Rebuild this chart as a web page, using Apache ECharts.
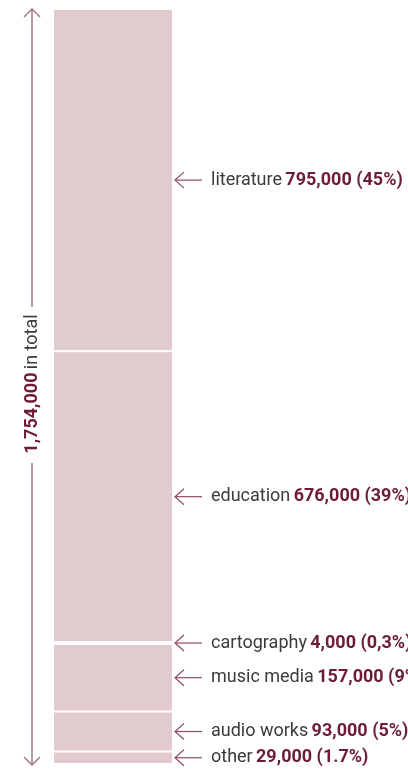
<!DOCTYPE html>
<html>
<head>
<meta charset="utf-8">
<script src="https://cdn.jsdelivr.net/npm/echarts@6/dist/echarts.min.js"></script>
<style>
  html, body { margin: 0; padding: 0; background: #fff; }
  #chart { width: 408px; height: 771px; }
</style>
</head>
<body>
<div id="chart"></div>
<script>
  // segments from top to bottom
  var categories = ['literature', 'education', 'cartography', 'music media', 'audio works', 'other']
  var values = [795000, 676000, 4000, 157000, 93000, 29000]
  var shares = ['45%', '39%', '0,3%', '9%', '5%', '1.7%']
  var totalText = '1,754,000'

  var total = values.reduce(function (a, b) { return a + b }, 0)
  var fontFamily = 'Roboto, "Noto Sans", sans-serif'
  var barColor = '#e2cbcf'
  var arrowColor = '#8c4b5e'

  var chart = echarts.init(document.getElementById('chart'))

  // ECharts stacks upward, so the last category goes in first
  var series = []
  for (var i = categories.length - 1; i >= 0; i--) {
    series.push({
      name: categories[i],
      type: 'bar',
      stack: 'all',
      barWidth: '100%',
      data: [values[i]],
      itemStyle: { color: barColor, borderColor: '#fff', borderWidth: 1 },
      label: {
        show: true,
        position: 'right',
        distance: 38,
        formatter: (function (k) {
          return '{n|' + categories[k] + '} {v|' + values[k].toLocaleString('en-US') + ' (' + shares[k] + ')}'
        })(i),
        rich: {
          n: { color: '#3b3b3b', fontSize: 18, fontFamily: fontFamily },
          v: { color: '#6c1d35', fontSize: 18, fontWeight: 'bold', fontFamily: fontFamily }
        }
      },
      emphasis: { disabled: true }
    })
  }

  chart.setOption({
    animation: false,
    grid: { left: 53, top: 9, width: 120, height: 755 },
    xAxis: { type: 'category', data: ['all'], show: false },
    yAxis: { type: 'value', min: 0, max: total, show: false },
    series: series
  })

  // arrows pointing at each segment's middle, plus the total axis
  var graphics = []
  var acc = total
  for (var j = 0; j < categories.length; j++) {
    var mid = acc - values[j] / 2
    acc -= values[j]
    var y = chart.convertToPixel({ gridIndex: 0 }, [0, mid])[1]
    graphics.push({
      type: 'polyline',
      shape: { points: [[175, y], [202, y]] },
      style: { stroke: arrowColor, lineWidth: 1.2, fill: null }
    })
    graphics.push({
      type: 'polyline',
      shape: { points: [[184, y - 8], [175, y], [184, y + 8]] },
      style: { stroke: arrowColor, lineWidth: 1.2, fill: null }
    })
  }

  var yTop = chart.convertToPixel({ gridIndex: 0 }, [0, total])[1]
  var yBottom = chart.convertToPixel({ gridIndex: 0 }, [0, 0])[1] + 1
  var ax = 32
  var axisColor = '#a27886'
  graphics.push(
    { type: 'polyline', shape: { points: [[ax, yTop], [ax, 307]] }, style: { stroke: axisColor, lineWidth: 1.5, fill: null } },
    { type: 'polyline', shape: { points: [[ax, 463], [ax, yBottom]] }, style: { stroke: axisColor, lineWidth: 1.5, fill: null } },
    { type: 'polyline', shape: { points: [[ax - 8, yTop + 8], [ax, yTop], [ax + 8, yTop + 8]] }, style: { stroke: axisColor, lineWidth: 1.5, fill: null } },
    { type: 'polyline', shape: { points: [[ax - 8, yBottom - 8], [ax, yBottom], [ax + 8, yBottom - 8]] }, style: { stroke: axisColor, lineWidth: 1.5, fill: null } },
    {
      type: 'text',
      x: ax,
      y: 384,
      rotation: Math.PI / 2,
      style: {
        text: '{b|' + totalText + '} {n|in total}',
        align: 'center',
        verticalAlign: 'middle',
        rich: {
          b: { fill: '#6c1d35', fontSize: 18, fontWeight: 'bold', fontFamily: fontFamily },
          n: { fill: '#3b3b3b', fontSize: 18, fontFamily: fontFamily }
        }
      }
    }
  )

  chart.setOption({ graphic: graphics })
</script>
</body>
</html>
